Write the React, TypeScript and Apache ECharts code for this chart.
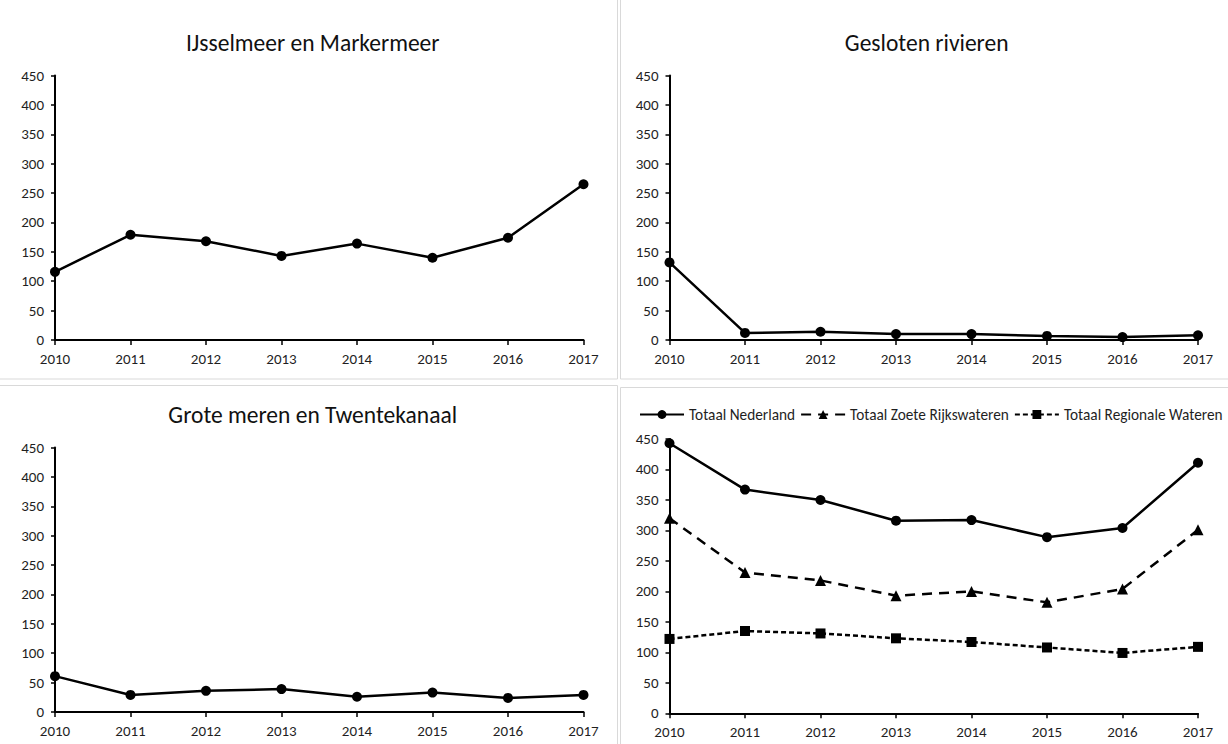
import React, { useEffect, useRef } from "react";
import * as echarts from "echarts";

const years = ["2010", "2011", "2012", "2013", "2014", "2015", "2016", "2017"];
const ijsselmeer = [116, 179, 168, 143, 164, 140, 174, 265];
const geslotenRivieren = [132, 12, 14, 10, 10, 7, 5, 8];
const groteMeren = [61, 29, 36, 39, 26, 33, 24, 29];
const totaalNederland = [443, 367, 350, 316, 317, 289, 304, 411];
const totaalZoete = [320, 231, 218, 193, 200, 182, 204, 301];
const totaalRegionale = [122, 135, 131, 123, 117, 108, 99, 109];

const titles = ["IJsselmeer en Markermeer", "Gesloten rivieren", "Grote meren en Twentekanaal"];
const legendNames = ["Totaal Nederland", "Totaal Zoete Rijkswateren", "Totaal Regionale Wateren"];

const FONT = "Carlito, Lato, sans-serif";
const TICK_COLOR = "#1f1f1f";

export default function App() {
  const ref = useRef<HTMLDivElement>(null);
  useEffect(() => {
    if (!ref.current) return;
    const chart = echarts.init(ref.current, null, { renderer: "svg" });

    const grids = [
      { left: 55, top: 75.5, width: 528.5, height: 264.5 },
      { left: 669.5, top: 75.5, width: 528.5, height: 264.5 },
      { left: 55, top: 447.5, width: 528.5, height: 264.5 },
      { left: 669.5, top: 439, width: 528.5, height: 274.3 },
    ];

    const xAxes = grids.map((_, i) => ({
      type: "category",
      gridIndex: i,
      data: years,
      boundaryGap: false,
      axisLine: { show: true, lineStyle: { color: "#000", width: 2 } },
      axisTick: { show: true, length: 5, lineStyle: { color: "#000", width: 1.5 } },
      axisLabel: { color: TICK_COLOR, fontFamily: FONT, fontSize: 15, margin: 11 },
      splitLine: { show: false },
    }));

    const yAxes = grids.map((_, i) => ({
      type: "value",
      gridIndex: i,
      min: 0,
      max: 450,
      interval: 50,
      axisLine: { show: true, lineStyle: { color: "#000", width: 2 } },
      axisTick: { show: true, length: 4, lineStyle: { color: "#000", width: 1.5 } },
      axisLabel: { color: TICK_COLOR, fontFamily: FONT, fontSize: 15, margin: 11 },
      splitLine: { show: false },
    }));

    const solid = (name: string, data: number[], idx: number) => ({
      name,
      type: "line",
      xAxisIndex: idx,
      yAxisIndex: idx,
      data,
      symbol: "circle",
      symbolSize: 10,
      lineStyle: { color: "#000", width: 2.5 },
      itemStyle: { color: "#000" },
    });

    const series: any[] = [
      solid(titles[0], ijsselmeer, 0),
      solid(titles[1], geslotenRivieren, 1),
      solid(titles[2], groteMeren, 2),
      solid(legendNames[0], totaalNederland, 3),
      {
        name: legendNames[1],
        type: "line",
        xAxisIndex: 3,
        yAxisIndex: 3,
        data: totaalZoete,
        symbol: "triangle",
        symbolSize: 11,
        lineStyle: { color: "#000", width: 2.5, type: [10, 7] },
        itemStyle: { color: "#000" },
      },
      {
        name: legendNames[2],
        type: "line",
        xAxisIndex: 3,
        yAxisIndex: 3,
        data: totaalRegionale,
        symbol: "rect",
        symbolSize: 10,
        lineStyle: { color: "#000", width: 2.5, type: [5, 3] },
        itemStyle: { color: "#000" },
      },
    ];

    const border = { stroke: "#d9d9d9", fill: "none", lineWidth: 1 };
    const titleStyle = (text: string, x: number, y: number) => ({
      type: "text",
      x,
      y,
      style: {
        text,
        fill: "#111",
        font: `23.5px ${FONT}`,
        align: "center",
        verticalAlign: "middle",
      },
    });

    chart.setOption({
      animation: false,
      backgroundColor: "#fff",
      grid: grids,
      xAxis: xAxes,
      yAxis: yAxes,
      series,
      legend: {
        data: legendNames,
        left: 639,
        top: 407,
        width: 800,
        orient: "horizontal",
        padding: 0,
        itemWidth: 44,
        itemHeight: 11,
        itemGap: 5,
        textStyle: { color: TICK_COLOR, fontFamily: FONT, fontSize: 15.3 },
      },
      graphic: [
        { type: "rect", shape: { x: -5, y: -5, width: 622.5, height: 384 }, style: border, silent: true },
        { type: "rect", shape: { x: 620.5, y: -5, width: 700, height: 384 }, style: border, silent: true },
        { type: "rect", shape: { x: -5, y: 385.5, width: 622.5, height: 400 }, style: border, silent: true },
        { type: "rect", shape: { x: 620.5, y: 387.5, width: 700, height: 400 }, style: border, silent: true },
        titleStyle(titles[0], 312.7, 43),
        titleStyle(titles[1], 926.7, 43),
        titleStyle(titles[2], 312.7, 415),
      ],
    });

    return () => chart.dispose();
  }, []);

  return (
    <div
      ref={ref}
      style={{ position: "fixed", left: 0, top: 0, width: 1228, height: 744, background: "#fff" }}
    />
  );
}
